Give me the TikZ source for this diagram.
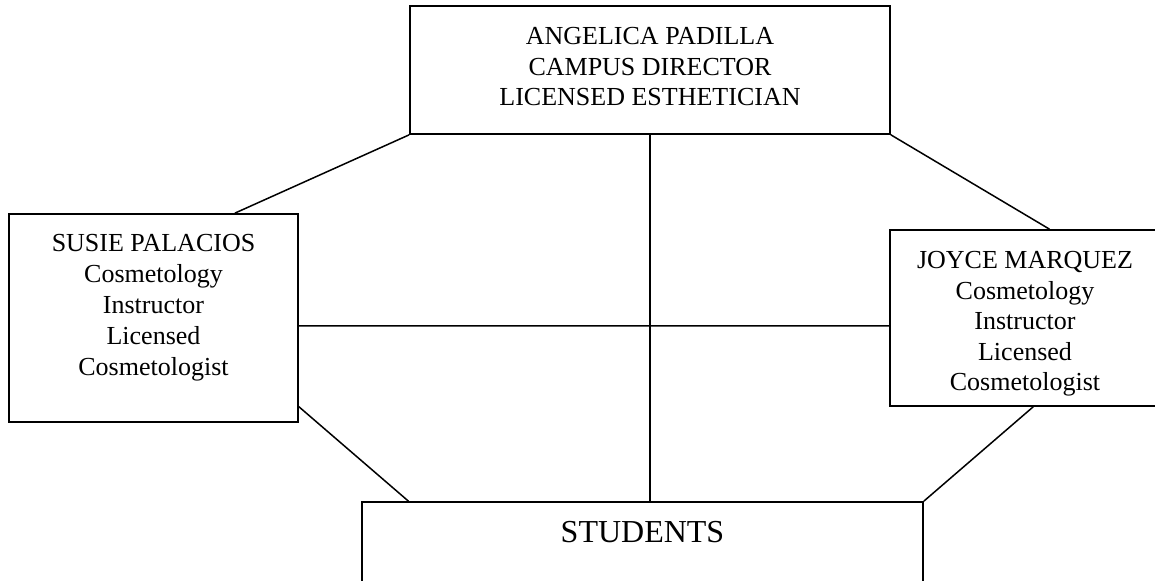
\documentclass[tikz,border=0pt]{standalone}
\usepackage{fontspec}
\setmainfont{Liberation Serif}
\usetikzlibrary{positioning,calc}

\begin{document}
\begin{tikzpicture}[x=0.5pt,y=-0.5pt,
    box/.style={draw, line width=0.85pt, inner sep=0pt},
    txt/.style={anchor=north, align=center, inner sep=0pt, font=\fontsize{13}{15.25}\selectfont},
    link/.style={line width=0.75pt}]
    \useasboundingbox (0,0) rectangle (1155,581);

    % Boxes
    \node[box, minimum width=240pt, minimum height=64pt] (dir) at (650,70) {};
    \node[box, minimum width=144.5pt, minimum height=104pt] (susie) at (153.5,318) {};
    \node[box, minimum width=135pt, minimum height=88pt] (joyce) at (1025,318) {};
    \node[box, minimum width=280.5pt, minimum height=69pt] (students) at (642.5,571) {};

    % Texts
    \node[txt] (dirtxt) at (650,27) {ANGELICA PADILLA\\CAMPUS DIRECTOR\\LICENSED ESTHETICIAN};
    \node[txt, font=\fontsize{13}{15.5}\selectfont] (susietxt) at (153.5,234) {SUSIE PALACIOS\\Cosmetology\\Instructor\\Licensed\\Cosmetologist};
    \node[txt] (joycetxt) at (1025,251) {JOYCE MARQUEZ\\Cosmetology\\Instructor\\Licensed\\Cosmetologist};
    \node[txt, font=\fontsize{16}{19}\selectfont] (studtxt) at (642.5,521) {STUDENTS};

    % Lines
    \draw[link] (dir.south west) -- ($(susie.north west)!0.78!(susie.north east)$);
    \draw[link] (dir.south east) -- ($(joyce.north west)!0.59!(joyce.north east)$);
    \draw[link] (dir.south) -- (dir.south |- students.north);
    \draw[link] ($(susie.north east)!0.538!(susie.south east)$) -- ($(joyce.north west)!0.545!(joyce.south west)$);
    \draw[link] ($(susie.north east)!0.923!(susie.south east)$) -- ($(students.north west)!0.084!(students.north east)$);
    \draw[link] ($(joyce.south west)!0.53!(joyce.south east)$) -- (students.north east);
\end{tikzpicture}
\end{document}
